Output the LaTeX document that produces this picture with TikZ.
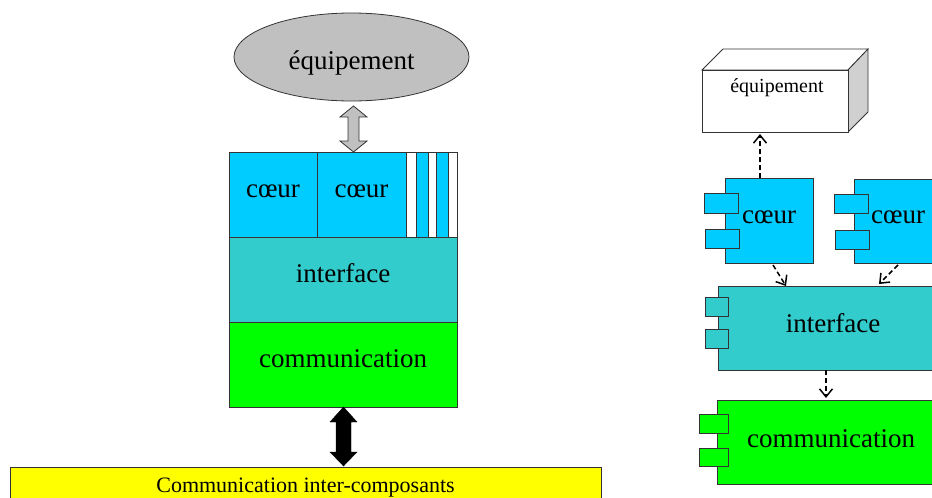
\documentclass[tikz,border=0pt]{standalone}
\usepackage{fontspec}
\setmainfont{Liberation Serif}
\usetikzlibrary{arrows.meta,calc,shapes.geometric}
\definecolor{ccyan}{HTML}{00CCFF}
\definecolor{cteal}{HTML}{33CCCC}
\definecolor{cgreen}{HTML}{00FF00}
\definecolor{cyell}{HTML}{FFFF00}
\definecolor{cgray}{HTML}{C0C0C0}
\definecolor{cside}{HTML}{D0D0D0}
\definecolor{cline}{HTML}{333333}
\tikzset{
  box/.style={draw=cline, line width=0.8pt, inner sep=0pt, outer sep=0pt, rectangle},
  big/.style={font=\fontsize{27}{30}\selectfont},
  lefttext/.style={big, text height=20pt, text depth=15pt},
  tab/.style={draw=cline, line width=0.8pt},
  dep/.style={draw=black, line width=1.5pt, dash pattern=on 5pt off 3pt, -{Straight Barb[length=8pt,width=13pt,line width=1.5pt]}},
}
\begin{document}
\begin{tikzpicture}[x=1pt,y=-1pt]
\useasboundingbox (0,0) rectangle (932,498);
\clip (0,0) rectangle (932,498);
% ---------- left diagram ----------
\node[box, ellipse, fill=cgray, minimum width=235pt, minimum height=88pt, big, text height=24pt, text depth=0pt] (eq) at (351.5,57) {équipement};
% gray double arrow
\draw[cline, fill=cgray, line width=0.8pt] (353.5,106) -- (367,117) -- (359,117) -- (359,141) -- (367,141) -- (353.5,152) -- (340,141) -- (348,141) -- (348,117) -- (340,117) -- cycle;
\node[box, fill=ccyan, minimum width=88pt, minimum height=85pt, lefttext] (c1) at (273,194.5) {cœur};
\node[box, fill=ccyan, minimum width=89pt, minimum height=85pt, lefttext] (c2) at (361.5,194.5) {cœur};
\draw[box, fill=white] (406,152) rectangle (416,237);
\draw[box, fill=ccyan] (416,152) rectangle (428,237);
\draw[box, fill=white] (428,152) rectangle (436,237);
\draw[box, fill=ccyan] (436,152) rectangle (448,237);
\draw[box, fill=white] (448,152) rectangle (457,237);
\node[box, fill=cteal, minimum width=228pt, minimum height=85pt, lefttext] (if) at (343,279.5) {interface};
\node[box, fill=cgreen, minimum width=228pt, minimum height=85pt, lefttext] (cm) at (343,364.5) {communication};
% black double arrow
\draw[black, fill=black] (343.5,407) -- (357,422) -- (351,422) -- (351,452) -- (357,452) -- (343.5,466) -- (330,452) -- (336,452) -- (336,422) -- (330,422) -- cycle;
\node[box, fill=cyell, minimum width=591pt, minimum height=44pt, anchor=north west] (ic) at (10,467) {};
\node[font=\fontsize{22}{24}\selectfont] at (305.5,487.5) {Communication inter-composants};
% ---------- right diagram ----------
\draw[tab, fill=white] (702,70) -- (723,49) -- (868,49) -- (848,70) -- cycle;
\draw[tab, fill=cside] (848,70) -- (868,49) -- (868,112) -- (848,132) -- cycle;
\node[box, fill=white, minimum width=146pt, minimum height=62pt] (req) at (775,101) {};
\node[font=\fontsize{20}{22}\selectfont] at (777,88) {équipement};
% coeur 1
\node[box, fill=ccyan, minimum width=88pt, minimum height=85pt] (rc1) at (769,220.5) {};
\draw[tab, fill=ccyan] (704,193) rectangle (738,213);
\draw[tab, fill=ccyan] (705,229) rectangle (739,248);
\node[big] at (769,217) {cœur};
% coeur 2
\node[box, fill=ccyan, minimum width=88pt, minimum height=84pt] (rc2) at (898,221) {};
\draw[tab, fill=ccyan] (834,194) rectangle (868,213);
\draw[tab, fill=ccyan] (835,230) rectangle (869,249);
\node[big] at (898,217) {cœur};
% interface
\node[box, fill=cteal, minimum width=230pt, minimum height=84pt] (rif) at (833,328) {};
\draw[tab, fill=cteal] (705,297) rectangle (728,316);
\draw[tab, fill=cteal] (705,329) rectangle (728,348);
\node[big] at (833,323) {interface};
% communication
\node[box, fill=cgreen, minimum width=228pt, minimum height=84pt] (rcm) at (831,442) {};
\draw[tab, fill=cgreen] (699,414) rectangle (728,433);
\draw[tab, fill=cgreen] (699,448) rectangle (728,466);
\node[big] at (831,439) {communication};
% dependencies
\draw[dep] (760,178) -- (760,134);
\draw[dep] (773,265) -- (786,286);
\draw[dep] (898,265) -- (879,284);
\draw[dep] (826,370) -- (826,398);
\end{tikzpicture}
\end{document}
